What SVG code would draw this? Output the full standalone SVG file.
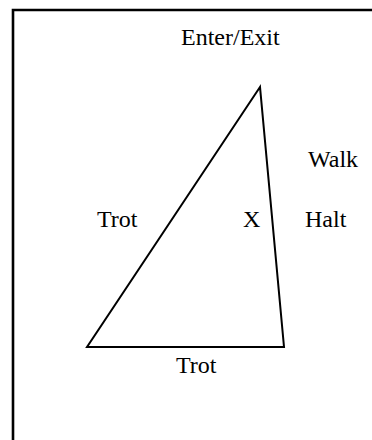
<svg xmlns="http://www.w3.org/2000/svg" width="372" height="440" viewBox="0 0 372 440">
<style>
.t{font-family:"Liberation Serif","Times New Roman",serif;font-size:24px;fill:#000}
.ln{fill:none;stroke:#000;stroke-width:2;stroke-linejoin:miter}
</style>
<rect width="372" height="440" fill="#fff"/>
<path d="M13,440 V10 H372" fill="none" stroke="#000" stroke-width="2.6"/>
<g id="connectors">
<path class="ln" d="M260,87 L87,347 L284,347 Z"/>
</g>
<g id="enter-exit"><text class="t" x="181" y="45">Enter/Exit</text></g>
<g id="walk"><text class="t" x="308" y="167">Walk</text></g>
<g id="trot-left"><text class="t" x="97" y="227">Trot</text></g>
<g id="x"><text class="t" x="243" y="227">X</text></g>
<g id="halt"><text class="t" x="305" y="227">Halt</text></g>
<g id="trot-bottom"><text class="t" x="176" y="373">Trot</text></g>
</svg>
